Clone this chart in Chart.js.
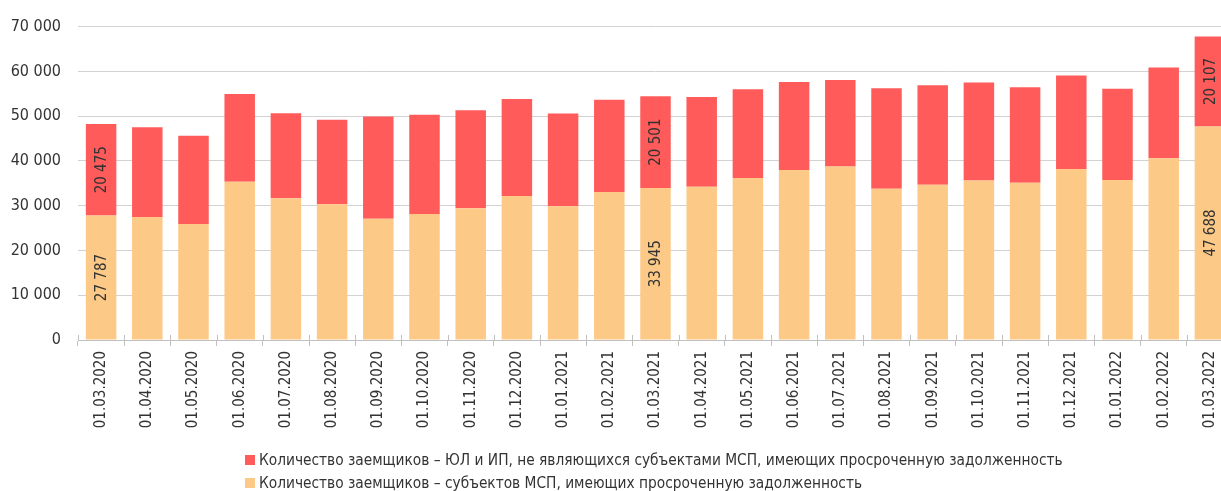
<!DOCTYPE html>
<html>
<head>
<meta charset="utf-8">
<script src="https://cdn.jsdelivr.net/npm/chart.js@4"></script>
<style>
  html, body { margin: 0; padding: 0; background: #fff; overflow: hidden; }
  #wrap { position: relative; width: 1221px; height: 491px; overflow: hidden; }
  #myChart { position: absolute; left: 0; top: 0; }
  #legend { position: absolute; left: 245px; top: 449px; font-family: "DejaVu Sans Condensed", sans-serif; font-size: 15.3px; color: #333; }
  #legend div { height: 23px; line-height: 23px; white-space: nowrap; }
  #legend span { display: inline-block; width: 10px; height: 10px; margin-right: 4px; }
</style>
</head>
<body>
<div id="wrap">
  <canvas id="myChart" width="1233" height="491" style="width:1233px;height:491px"></canvas>
  <div id="legend"></div>
</div>
<script>
const categories = ['01.03.2020', '01.04.2020', '01.05.2020', '01.06.2020', '01.07.2020', '01.08.2020',
    '01.09.2020', '01.10.2020', '01.11.2020', '01.12.2020', '01.01.2021', '01.02.2021', '01.03.2021',
    '01.04.2021', '01.05.2021', '01.06.2021', '01.07.2021', '01.08.2021', '01.09.2021', '01.10.2021',
    '01.11.2021', '01.12.2021', '01.01.2022', '01.02.2022', '01.03.2022'];

// субъекты МСП (нижняя часть)
const smeValues = [27787, 27460, 25920, 35320, 31650, 30320, 27090, 28120, 29440, 32160, 29880, 33040, 33945,
    34210, 36200, 37960, 38770, 33770, 34660, 35610, 35100, 38180, 35760, 40600, 47688];
// ЮЛ и ИП, не являющиеся МСП (верхняя часть)
const nonSmeValues = [20475, 20040, 19680, 19600, 19020, 18870, 22830, 22170, 21880, 21660, 20710, 20630, 20501,
    20050, 19820, 19680, 19310, 22470, 22240, 21880, 21360, 20920, 20340, 20260, 20107];

const labeledBars = [0, 12, 24];

const yTicks = [0, 10000, 20000, 30000, 40000, 50000, 60000, 70000];

const seriesNames = [
    'Количество заемщиков – ЮЛ и ИП, не являющихся субъектами МСП, имеющих просроченную задолженность',
    'Количество заемщиков – субъектов МСП, имеющих просроченную задолженность'
];

const fontName = '"DejaVu Sans Condensed", sans-serif';

function fmt(v) {
    return String(v).replace(/\B(?=(\d{3})+(?!\d))/g, ' ');
}

const barLabels = {
    id: 'barLabels',
    afterDatasetsDraw(chart) {
        let ctx = chart.ctx;
        ctx.save();
        ctx.fillStyle = '#333';
        ctx.font = '15px ' + fontName;
        ctx.textAlign = 'center';
        ctx.textBaseline = 'middle';
        chart.data.datasets.forEach((ds, i) => {
            let meta = chart.getDatasetMeta(i);
            labeledBars.forEach((j) => {
                let bar = meta.data[j];
                let cy = (bar.y + bar.base) / 2;
                ctx.save();
                ctx.translate(bar.x, cy);
                ctx.rotate(-Math.PI / 2);
                ctx.fillText(fmt(ds.data[j]), 0, 1);
                ctx.restore();
            });
        });
        ctx.restore();
    }
};

// засечки оси X заходят немного выше линии оси
const tickCross = {
    id: 'tickCross',
    afterDraw(chart) {
        let ctx = chart.ctx;
        let x = chart.scales.x;
        let y0 = chart.chartArea.bottom;
        ctx.save();
        ctx.strokeStyle = '#c0c0c0';
        ctx.lineWidth = 1;
        ctx.beginPath();
        for (let i = 0; i <= categories.length; i++) {
            let px = Math.round(x.getPixelForValue(i - 0.5)) + 0.5;
            ctx.moveTo(px, y0 - 5);
            ctx.lineTo(px, y0);
        }
        ctx.stroke();
        ctx.restore();
    }
};

let ctx = document.getElementById('myChart').getContext('2d');

const data = {
    labels: categories,
    datasets: [{
        label: seriesNames[1],
        data: smeValues,
        backgroundColor: '#FDC986',
        borderWidth: 0,
        barPercentage: 0.66,
        categoryPercentage: 1
    }, {
        label: seriesNames[0],
        data: nonSmeValues,
        backgroundColor: '#FF5B5B',
        borderWidth: 0,
        barPercentage: 0.66,
        categoryPercentage: 1
    }]
};

const config = {
    type: 'bar',
    data: data,
    options: {
        responsive: false,
        animation: false,
        layout: { padding: { top: 22, right: 0, left: 0, bottom: 0 } },
        plugins: {
            legend: { display: false },
            tooltip: { enabled: false }
        },
        scales: {
            x: {
                stacked: true,
                afterFit: (scale) => { scale.height = 151; },
                grid: {
                    offset: true,
                    drawOnChartArea: false,
                    tickLength: 6,
                    color: '#c0c0c0'
                },
                border: { color: '#c0c0c0', width: 1 },
                ticks: {
                    maxRotation: 90,
                    minRotation: 90,
                    autoSkip: false,
                    padding: 5,
                    color: '#333',
                    font: { family: fontName, size: 15 }
                }
            },
            y: {
                stacked: true,
                min: 0,
                max: 70000,
                afterFit: (scale) => { scale.width = 78; },
                afterBuildTicks: (scale) => { scale.ticks = yTicks.map(v => ({ value: v })); },
                grid: { color: '#d2d2d2', drawTicks: false },
                border: { display: false },
                ticks: {
                    padding: 17,
                    color: '#333',
                    font: { family: fontName, size: 16 },
                    callback: (v) => fmt(v)
                }
            }
        }
    },
    plugins: [barLabels, tickCross]
};

let myChart = new Chart(ctx, config);

// легенда: сначала верхний ряд (красный), потом МСП
let legend = document.getElementById('legend');
[1, 0].forEach((i) => {
    let ds = myChart.data.datasets[i];
    let row = document.createElement('div');
    let sw = document.createElement('span');
    sw.style.background = ds.backgroundColor;
    row.appendChild(sw);
    row.appendChild(document.createTextNode(ds.label));
    legend.appendChild(row);
});
</script>
</body>
</html>
